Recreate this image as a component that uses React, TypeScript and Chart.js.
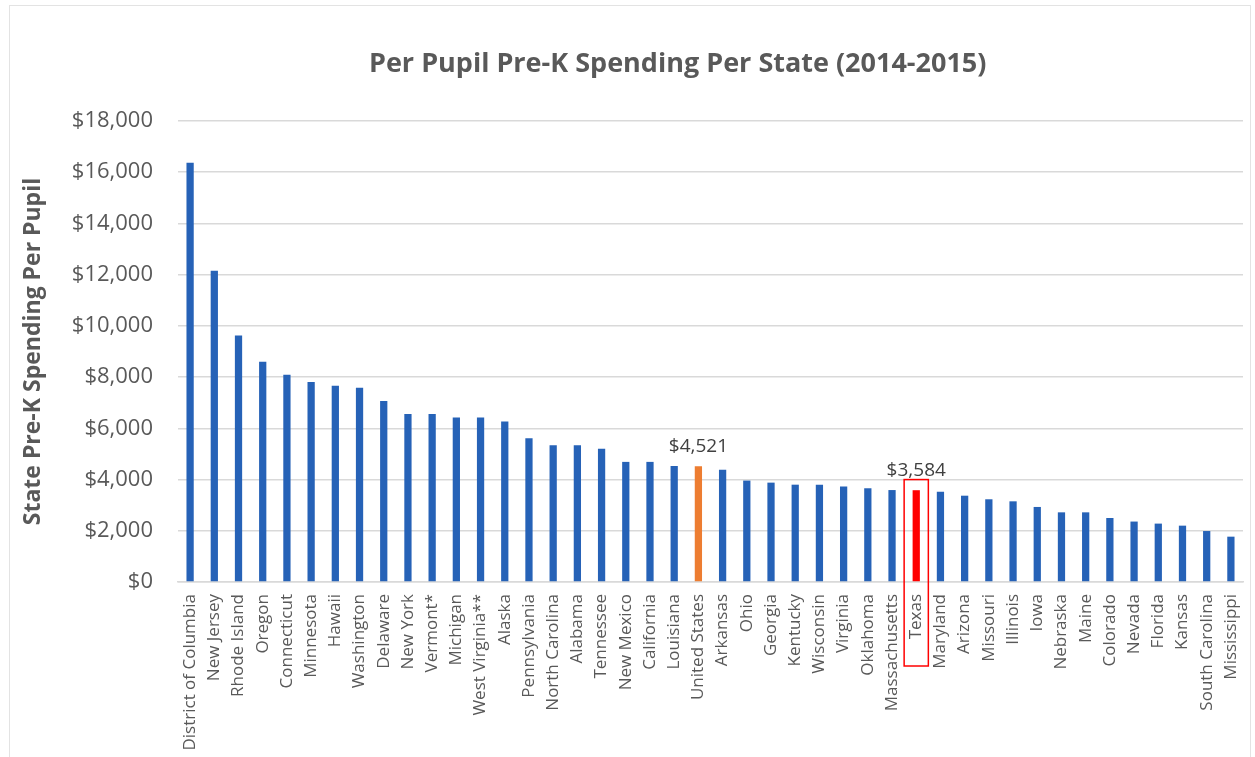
import React, { useEffect, useRef } from "react";
import { Chart, registerables } from "chart.js";

Chart.register(...registerables);

const chartTitle = "Per Pupil Pre-K Spending Per State (2014-2015)";
const yAxisTitle = "State Pre-K Spending Per Pupil";

const categories = [
  "District of Columbia", "New Jersey", "Rhode Island", "Oregon", "Connecticut",
  "Minnesota", "Hawaii", "Washington", "Delaware", "New York", "Vermont*",
  "Michigan", "West Virginia**", "Alaska", "Pennsylvania", "North Carolina",
  "Alabama", "Tennessee", "New Mexico", "California", "Louisiana", "United States",
  "Arkansas", "Ohio", "Georgia", "Kentucky", "Wisconsin", "Virginia", "Oklahoma",
  "Massachusetts", "Texas", "Maryland", "Arizona", "Missouri", "Illinois", "Iowa",
  "Nebraska", "Maine", "Colorado", "Nevada", "Florida", "Kansas", "South Carolina",
  "Mississippi",
];

const spending = [
  16370, 12150, 9620, 8600, 8090,
  7810, 7660, 7580, 7070, 6560, 6560,
  6420, 6420, 6270, 5610, 5340,
  5340, 5200, 4690, 4690, 4530, 4521,
  4380, 3960, 3880, 3800, 3800, 3730, 3660,
  3590, 3584, 3520, 3370, 3230, 3150, 2930,
  2720, 2720, 2500, 2360, 2280, 2200, 1990,
  1770,
];

const labeledCategories = ["United States", "Texas"];
const boxedCategory = "Texas";

const yMin = 0;
const yMax = 18000;
const yStep = 2000;

const BLUE = "#2662B7";
const ORANGE = "#ED7D31";
const RED = "#FF0000";
const TEXT = "#595959";
const FONT = "'Open Sans', 'DejaVu Sans', sans-serif";

const fmt = (v: number) => "$" + Math.round(v).toLocaleString("en-US");

const overlayPlugin = {
  id: "overlay",
  afterDraw(chart: any) {
    const { ctx, chartArea, scales } = chart;
    const xs = scales.x;
    const ys = scales.y;
    ctx.save();
    // Title
    ctx.fillStyle = TEXT;
    ctx.font = `bold 27px ${FONT}`;
    ctx.textAlign = "center";
    ctx.textBaseline = "middle";
    ctx.fillText(chartTitle, chart.width * 0.54, 64);

    // Data labels
    ctx.fillStyle = "#404040";
    ctx.font = `19px ${FONT}`;
    ctx.textBaseline = "alphabetic";
    labeledCategories.forEach((name) => {
      const i = categories.indexOf(name);
      const x = xs.getPixelForValue(i);
      const y = ys.getPixelForValue(spending[i]);
      ctx.fillText(fmt(spending[i]), x, y - 14);
    });

    // Box around highlighted category
    const bi = categories.indexOf(boxedCategory);
    const half = (xs.getPixelForTick(1) - xs.getPixelForTick(0)) / 2;
    const cx = xs.getPixelForValue(bi);
    const top = ys.getPixelForValue(4000);
    const bottom = chartArea.bottom + 84;
    ctx.strokeStyle = RED;
    ctx.lineWidth = 1.5;
    ctx.strokeRect(cx - half, top, half * 2, bottom - top);
    ctx.restore();
  },
};

export default function App() {
  const canvasRef = useRef<HTMLCanvasElement | null>(null);

  useEffect(() => {
    if (!canvasRef.current) return;
    const colors = categories.map((c) =>
      c === "United States" ? ORANGE : c === "Texas" ? RED : BLUE
    );
    const chart = new Chart(canvasRef.current, {
      type: "bar",
      data: {
        labels: categories,
        datasets: [
          {
            data: spending,
            backgroundColor: colors,
            borderWidth: 0,
            categoryPercentage: 1,
            barPercentage: 0.3,
          },
        ],
      },
      options: {
        animation: false,
        responsive: false,
        devicePixelRatio: 1,
        layout: { padding: { top: 121, right: 12, left: 0, bottom: 0 } },
        plugins: {
          legend: { display: false },
          title: { display: false },
          tooltip: { enabled: false },
        },
        scales: {
          x: {
            grid: { display: false, drawTicks: false },
            border: { display: true, color: "#D9D9D9", width: 1.5 },
            ticks: {
              autoSkip: false,
              minRotation: 90,
              maxRotation: 90,
              padding: 12,
              color: TEXT,
              font: { family: FONT, size: 17 },
            },
            afterFit: (scale: any) => {
              scale.height = 175;
              scale.paddingRight = 0;
              scale.paddingLeft = 0;
            },
          },
          y: {
            min: yMin,
            max: yMax,
            grid: { color: "#D9D9D9", lineWidth: 1.5, drawTicks: false },
            border: { display: false },
            ticks: {
              stepSize: yStep,
              padding: 25,
              color: TEXT,
              font: { family: FONT, size: 22 },
              callback: (v: any) => fmt(Number(v)),
            },
            title: {
              display: true,
              text: yAxisTitle,
              color: TEXT,
              font: { family: FONT, size: 23, weight: "bold" },
              padding: { top: 20, bottom: 0 },
            },
            afterFit: (scale: any) => {
              scale.width = 178;
            },
          },
        },
      },
      plugins: [overlayPlugin],
    });
    return () => chart.destroy();
  }, []);

  return (
    <div style={{ position: "absolute", left: 0, top: 0, width: 1255, height: 757, background: "#fff", overflow: "hidden" }}>
      <div
        style={{
          position: "absolute",
          left: 9,
          top: 5,
          width: 1242,
          height: 780,
          border: "1px solid #E3E3E3",
          boxSizing: "border-box",
        }}
      />
      <canvas ref={canvasRef} width={1255} height={757} style={{ position: "absolute", left: 0, top: 0 }} />
    </div>
  );
}
